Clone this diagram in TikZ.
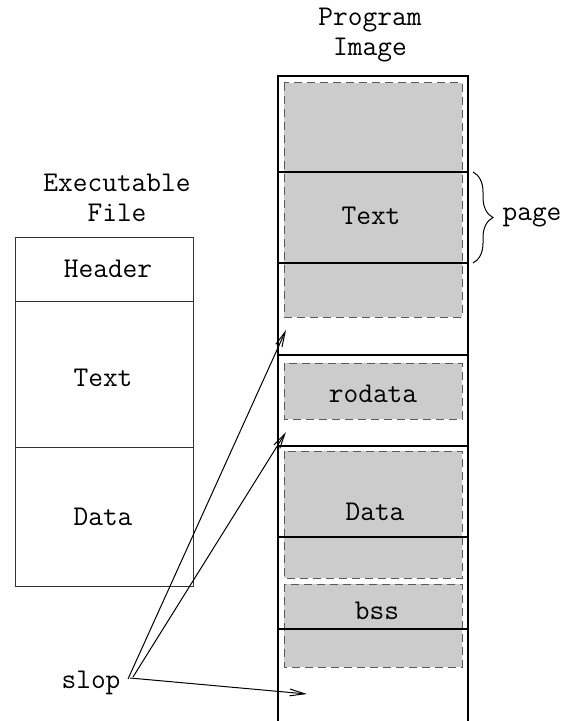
\documentclass[tikz,border=0pt]{standalone}
\usetikzlibrary{arrows.meta}
\usetikzlibrary{decorations.pathreplacing}
\tikzset{>={Straight Barb[length=7.5pt,width=3.4pt]}}
\tikzset{
  lbl/.style={font=\ttfamily\fontsize{14.3}{15}\selectfont, inner sep=1pt, align=center},
  seg/.style={fill=black!20, draw=black!65, dash pattern=on 4pt off 2.5pt, line width=0.5pt},
  pgline/.style={line width=1pt},
  fileline/.style={line width=0.5pt, draw=black!80}
}

\begin{document}
\begin{tikzpicture}[x=0.5pt, y=-0.5pt]
    \useasboundingbox (0,0) rectangle (578,721);
    % executable file
    \node[lbl] (exetitle) at (117,198) {Executable\\File};
    \draw[fileline] (15,238) rectangle (193,586);
    \draw[fileline] (15,301) -- (193,301);
    \draw[fileline] (15,447) -- (193,447);
    \node[lbl] (fheader) at (108,269) {Header};
    \node[lbl] (ftext) at (103,378) {Text};
    \node[lbl] (fdata) at (103,517) {Data};
    % program image
    \node[lbl] (pgtitle) at (370,35) {Program\\Image};
    \filldraw[seg] (284,83) rectangle (462,317);
    \filldraw[seg] (284,363) rectangle (462,419);
    \filldraw[seg] (284,451) rectangle (462,578);
    \filldraw[seg] (284,584) rectangle (462,667);
    \draw[pgline] (278,721) -- (278,76) -- (468,76) -- (468,721);
    \foreach \y in {172,263,355,446,537,629}
      \draw[pgline] (278,\y) -- (468,\y);
    \node[lbl] (ptext) at (371,216) {Text};
    \node[lbl] (prodata) at (373,394) {rodata};
    \node[lbl] (pdata) at (375,512) {Data};
    \node[lbl] (pbss) at (377,611) {bss};
    % page brace
    \draw[decorate, decoration={brace, amplitude=10pt}, line width=0.5pt] (473,172) -- (473,263);
    \node[lbl] (page) at (532,217) {page};
    % slop arrows
    \node[lbl] (slop) at (91,683) {slop};
    \coordinate (s1) at (128,679);
    \coordinate (s2) at (133,677);
    \coordinate (s3) at (130,678);
    \coordinate (gap1) at (286,330);
    \coordinate (gap2) at (286,432);
    \coordinate (gap3) at (307,694);
    \draw[->, line width=0.5pt] (s1) -- (gap1);
    \draw[->, line width=0.5pt] (s2) -- (gap2);
    \draw[->, line width=0.5pt] (s3) -- (gap3);
\end{tikzpicture}
\end{document}
